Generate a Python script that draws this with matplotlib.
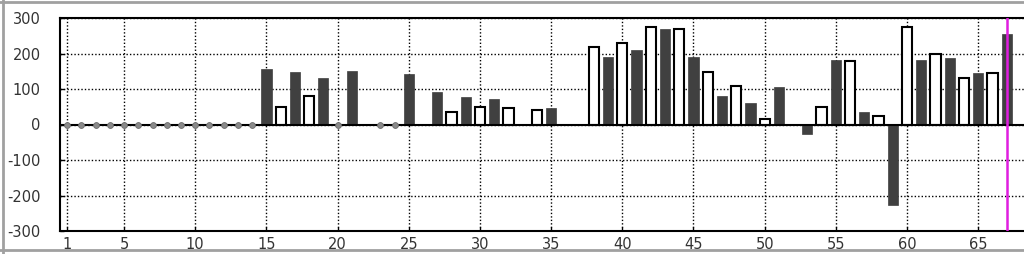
from matplotlib import pyplot as plt
from matplotlib.lines import Line2D
import numpy as np

plt.rcParams['axes.unicode_minus'] = False

# Verdier for hver runde (None = ingen stolpe, 0 = punkt på nullinja)
runder = list(range(1, 68))
verdier = [0, 0, 0, 0, 0, 0, 0, 0, 0, 0, 0, 0, 0, 0,
           156, 50, 147, 80, 131, 0, 151, None, 0, 0, 141, None,
           92, 35, 77, 50, 72, 46, None, 41, 47, None, None,
           219, 190, 230, 211, 274, 270, 268, 190, 149, 81, 109, 61,
           15, 106, None, -27, 50, 181, 179, 36, 25, -226,
           274, 181, 200, 186, 130, 146, 145, 256]

x_ticks = [1, 5, 10, 15, 20, 25, 30, 35, 40, 45, 50, 55, 60, 65]
y_ticks = [-300, -200, -100, 0, 100, 200, 300]
markert_runde = 67

fig = plt.figure(figsize=(10.24, 2.54), dpi=100)
ax = fig.add_axes([60/1024, 23/254, 968/1024, 213/254])

# Stolper: oddetall mørke, partall hvite
for r, v in zip(runder, verdier):
    if v is None:
        continue
    if v == 0:
        ax.plot(r, 0, 'o', ms=4.2, color='#8a8a8a', mec='#6a6a6a', mew=0.6, zorder=4)
    elif r % 2 == 1:
        ax.bar(r, v, width=0.72, color='#404040', edgecolor='#404040', lw=0.5, zorder=3)
    else:
        ax.bar(r, v, width=0.72, color='white', edgecolor='black', lw=1.5, zorder=3)

ax.axhline(0, color='black', lw=1.5, zorder=3.5)
ax.axvline(markert_runde, color='#e01ee0', lw=1.8, zorder=5)

ax.set_xlim(0.5, 68.5)
ax.set_ylim(-300, 300)
ax.set_xticks(x_ticks)
ax.set_yticks(y_ticks)
ax.grid(True, color='black', linestyle=(0, (1, 1.5)), lw=1.0)
ax.set_axisbelow(True)
ax.tick_params(direction='in', length=3, width=1, labelsize=10.5,
               labelcolor='#333333', pad=4)
ax.tick_params(axis='y', pad=14)
for s in ax.spines.values():
    s.set_linewidth(1.5)

# Grå ramme rundt figuren
for xs, ys in [([3/1024, 3/1024], [0, 1]), ([0, 1], [1 - 1.5/254, 1 - 1.5/254]),
               ([0, 1], [4/254, 4/254])]:
    fig.add_artist(Line2D(xs, ys, color='#a0a0a0', lw=2, transform=fig.transFigure))

fig.savefig('out.png', dpi=100)
